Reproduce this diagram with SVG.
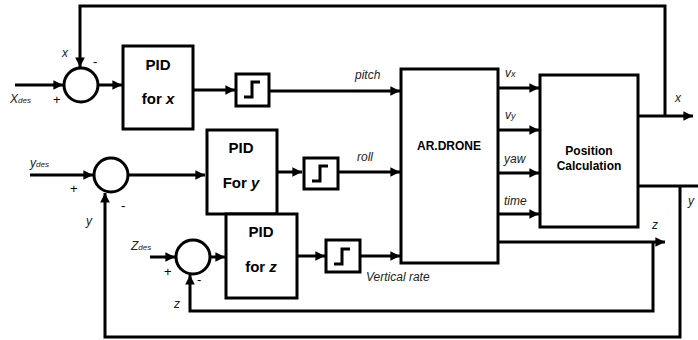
<svg xmlns="http://www.w3.org/2000/svg" width="698" height="340" viewBox="0 0 698 340">
<defs>
<marker id="ah" viewBox="0 0 10 10" refX="10" refY="5" markerWidth="3.2" markerHeight="3.2" orient="auto" markerUnits="strokeWidth">
<path d="M0,0 L10,5 L0,10 z" fill="#000"/>
</marker>
</defs>
<style>
.b{fill:#fff;stroke:#000;stroke-width:3}
.c{fill:#fff;stroke:#000;stroke-width:3}
.w{fill:none;stroke:#000;stroke-width:3}
.a{fill:none;stroke:#000;stroke-width:3;marker-end:url(#ah)}
.t{font-family:"Liberation Sans",Arial,sans-serif;font-weight:bold;font-size:15px;text-anchor:middle}
.t2{font-family:"Liberation Sans",Arial,sans-serif;font-weight:bold;font-size:12px;text-anchor:middle}
.l{font-family:"Liberation Sans",Arial,sans-serif;font-style:italic;font-size:12px;fill:#222}
.s{font-family:"Liberation Sans",Arial,sans-serif;font-size:13px}
</style>
<rect width="698" height="340" fill="#fff"/>
<g id="connectors">
<path class="a" d="M665,116 V6 H80 V67"/>
<path class="a" d="M15,85 H63"/>
<path class="a" d="M98,85 H122"/>
<path class="a" d="M193,90 H235"/>
<path class="a" d="M269,91 H400"/>
<path class="a" d="M30,175 H93"/>
<path class="a" d="M128,175 H205"/>
<path class="a" d="M277,172 H302"/>
<path class="a" d="M338,172 H400"/>
<path class="a" d="M150,257 H175"/>
<path class="a" d="M211,257 H225"/>
<path class="a" d="M297,256 H325"/>
<path class="a" d="M360,256 H400"/>
<path class="a" d="M498,88 H539"/>
<path class="a" d="M498,130 H539"/>
<path class="a" d="M498,173 H539"/>
<path class="a" d="M498,214 H539"/>
<path class="a" d="M498,242 H665"/>
<path class="a" d="M638,116 H693"/>
<path class="w" d="M638,186 H698"/>
<path class="a" d="M680,186 V337 H105 V193"/>
<path class="a" d="M653,242 V311 H190 V275"/>
</g>
<g id="sum-x"><circle class="c" cx="81" cy="85" r="17"/></g>
<g id="sum-y"><circle class="c" cx="111" cy="175" r="17"/></g>
<g id="sum-z"><circle class="c" cx="193" cy="257" r="17"/></g>
<g id="pid-x"><rect class="b" x="123" y="46" width="70" height="83"/><text class="t" x="158" y="70">PID</text><text class="t" x="158" y="104">for <tspan font-style="italic">x</tspan></text></g>
<g id="pid-y"><rect class="b" x="207" y="130" width="70" height="84"/><text class="t" x="241" y="153">PID</text><text class="t" x="241" y="188">For <tspan font-style="italic">y</tspan></text></g>
<g id="pid-z"><rect class="b" x="226" y="214" width="71" height="84"/><text class="t" x="261" y="237">PID</text><text class="t" x="261" y="272">for <tspan font-style="italic">z</tspan></text></g>
<g id="step-x"><rect class="b" x="236" y="74" width="33" height="32"/><path class="w" d="M244,97 H252 V82 H260"/></g>
<g id="step-y"><rect class="b" x="304" y="158" width="34" height="31"/><path class="w" d="M312,181 H320 V166 H328"/></g>
<g id="step-z"><rect class="b" x="326" y="240" width="34" height="32"/><path class="w" d="M334,264 H342 V249 H350"/></g>
<g id="ardrone"><rect class="b" x="401" y="69" width="97" height="194"/><text class="t2" x="449" y="150">AR.DRONE</text></g>
<g id="position-calc"><rect class="b" x="540" y="75" width="98" height="152"/><text class="t2" x="589" y="155">Position</text><text class="t2" x="589" y="170">Calculation</text></g>
<g id="labels">
<text class="l" x="62" y="57">x</text>
<text class="s" x="93" y="66">-</text>
<text class="l" x="10" y="103" font-size="10">X<tspan font-size="8">des</tspan></text>
<text class="s" x="53" y="104">+</text>
<text class="l" x="30" y="167" font-size="11">y<tspan font-size="8">des</tspan></text>
<text class="s" x="70" y="193">+</text>
<text class="s" x="121" y="210">-</text>
<text class="l" x="86" y="225">y</text>
<text class="l" x="131" y="250" font-size="10">Z<tspan font-size="8">des</tspan></text>
<text class="s" x="164" y="276">+</text>
<text class="s" x="197" y="284">-</text>
<text class="l" x="174" y="308">z</text>
<text class="l" x="355" y="79">pitch</text>
<text class="l" x="357" y="161">roll</text>
<text class="l" x="366" y="281">Vertical rate</text>
<text class="l" x="505" y="77">v<tspan font-size="9">x</tspan></text>
<text class="l" x="505" y="119">v<tspan font-size="9">y</tspan></text>
<text class="l" x="504" y="163">yaw</text>
<text class="l" x="504" y="205">time</text>
<text class="l" x="652" y="229">z</text>
<text class="l" x="675" y="102">x</text>
<text class="l" x="688" y="205">y</text>
</g>
</svg>
